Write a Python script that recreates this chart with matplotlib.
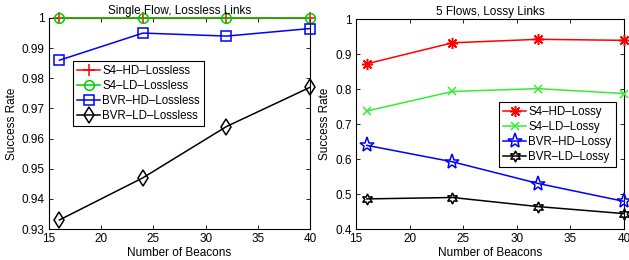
import matplotlib
matplotlib.use("Agg")
import matplotlib.pyplot as plt
from matplotlib.ticker import FixedLocator, FixedFormatter

plt.rcParams['font.family'] = ['Liberation Sans', 'DejaVu Sans']
plt.rcParams['font.size'] = 8.5

beacons = [16, 24, 32, 40]

# Left panel: Single Flow, Lossless Links
s4_hd_lossless = [1.0, 1.0, 1.0, 1.0]
s4_ld_lossless = [1.0, 1.0, 1.0, 1.0]
bvr_hd_lossless = [0.986, 0.995, 0.994, 0.9965]
bvr_ld_lossless = [0.933, 0.947, 0.964, 0.977]

# Right panel: 5 Flows, Lossy Links
s4_hd_lossy = [0.872, 0.932, 0.942, 0.939]
s4_ld_lossy = [0.737, 0.793, 0.801, 0.787]
bvr_hd_lossy = [0.639, 0.592, 0.530, 0.479]
bvr_ld_lossy = [0.486, 0.490, 0.464, 0.444]

left_labels = ['S4\u2013HD\u2013Lossless', 'S4\u2013LD\u2013Lossless',
               'BVR\u2013HD\u2013Lossless', 'BVR\u2013LD\u2013Lossless']
right_labels = ['S4\u2013HD\u2013Lossy', 'S4\u2013LD\u2013Lossy',
                'BVR\u2013HD\u2013Lossy', 'BVR\u2013LD\u2013Lossy']

left_yticks = [0.93, 0.94, 0.95, 0.96, 0.97, 0.98, 0.99, 1.0]
left_yticklabels = ['0.93', '0.94', '0.95', '0.96', '0.97', '0.98', '0.99', '1']
right_yticks = [0.4, 0.5, 0.6, 0.7, 0.8, 0.9, 1.0]
right_yticklabels = ['0.4', '0.5', '0.6', '0.7', '0.8', '0.9', '1']
xticks = [15, 20, 25, 30, 35, 40]

fig = plt.figure(figsize=(6.29, 2.6), dpi=100)
ax1 = fig.add_axes([49/629, 31/260, 261/629, 211/260])
ax2 = fig.add_axes([356/629, 31/260, 268/629, 210/260])

lw = 1.1
common = dict(lw=lw, mew=1.1, clip_on=False, zorder=3)
ax1.plot(beacons, s4_hd_lossless, color='red', marker='+', ms=9, label=left_labels[0], **common)
ax1.plot(beacons, s4_ld_lossless, color='#00cc00', marker='o', ms=7, mfc='none', label=left_labels[1], **common)
ax1.plot(beacons, bvr_hd_lossless, color='blue', marker='s', ms=6.5, mfc='none', label=left_labels[2], **common)
ax1.plot(beacons, bvr_ld_lossless, color='black', marker='d', ms=8.5, mfc='none', label=left_labels[3], **common)

ax2.plot(beacons, s4_hd_lossy, color='red', marker=(8, 2, 0), ms=8, label=right_labels[0], **common)
ax2.plot(beacons, s4_ld_lossy, color='#33ee33', marker='x', ms=6, label=right_labels[1], **common)
ax2.plot(beacons, bvr_hd_lossy, color='blue', marker='*', ms=11, mfc='none', label=right_labels[2], **common)
ax2.plot(beacons, bvr_ld_lossy, color='black', marker=(6, 1, 0), ms=8, mfc='none', label=right_labels[3], **common)

for ax, yt, ytl, ylim, title in [
        (ax1, left_yticks, left_yticklabels, (0.93, 1.0), 'Single Flow, Lossless Links'),
        (ax2, right_yticks, right_yticklabels, (0.4, 1.0), '5 Flows, Lossy Links')]:
    ax.set_xlim(15, 40)
    ax.set_ylim(*ylim)
    ax.xaxis.set_major_locator(FixedLocator(xticks))
    ax.set_xticklabels([str(t) for t in xticks])
    ax.yaxis.set_major_locator(FixedLocator(yt))
    ax.yaxis.set_major_formatter(FixedFormatter(ytl))
    ax.tick_params(direction='in', top=True, right=True, length=3, width=0.6, labelsize=8.5, pad=3)
    for s in ax.spines.values():
        s.set_linewidth(0.8)
    ax.set_xlabel('Number of Beacons', fontsize=8.5, labelpad=1)
    ax.set_ylabel('Success Rate', fontsize=8.5, labelpad=3)
    ax.set_title(title, fontsize=8.5, pad=3)

leg_kw = dict(frameon=True, fancybox=False, edgecolor='black', framealpha=1,
              fontsize=8.3, handlelength=2.0, handletextpad=0.2, borderpad=0.35,
              labelspacing=0.25, borderaxespad=0)
l1 = ax1.legend(loc='upper left', bbox_to_anchor=(73/629, 1 - 61/260), bbox_transform=fig.transFigure, **leg_kw)
l2 = ax2.legend(loc='upper left', bbox_to_anchor=(499/629, 1 - 102/260), bbox_transform=fig.transFigure, **leg_kw)
for l in (l1, l2):
    l.get_frame().set_linewidth(0.8)
    l.set_zorder(5)

fig.savefig('out.png', dpi=100)
